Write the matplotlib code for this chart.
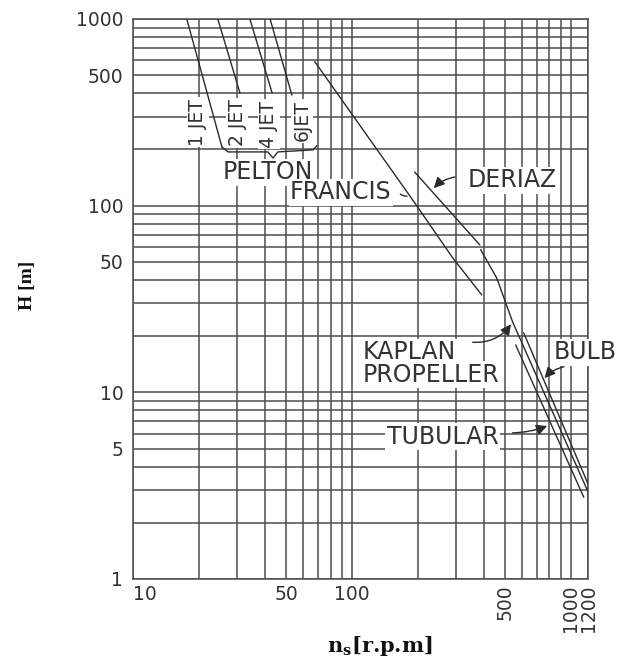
import matplotlib
matplotlib.use("Agg")
import matplotlib.pyplot as plt
from matplotlib.ticker import NullFormatter

# specific speed n_s [r.p.m] vs head H [m]
pelton_1jet_ns = [17.6, 25.5]
pelton_1jet_h = [1000, 206]
pelton_2jet_ns = [24.4, 30.8]
pelton_2jet_h = [1000, 402]
pelton_4jet_ns = [34.2, 43.2]
pelton_4jet_h = [1000, 402]
pelton_6jet_ns = [42.3, 53.2]
pelton_6jet_h = [1000, 392]

francis_ns = [67.8, 190, 289, 392]
francis_h = [589, 107, 52.5, 33.3]
deriaz_ns = [194, 384]
deriaz_h = [151, 61.7]
kaplan_ns = [388, 459, 543, 1200]
kaplan_h = [58, 41, 23.8, 2.93]
bulb_ns = [610, 1200]
bulb_h = [20.8, 3.23]
tubular_ns = [561, 1146]
tubular_h = [17.9, 2.75]

# brace grouping the pelton jets
brace_ns = [25.5, 27.2, 41.3, 43.6, 45.9, 66.4, 69.2]
brace_h = [206, 194, 194, 180, 194, 199, 209]

x_ticks = [10, 50, 100, 500, 1000, 1200]
x_ticklabels = ["10", "50", "100", "500", "1000", "1200"]
y_ticks = [1, 5, 10, 50, 100, 500, 1000]
y_ticklabels = ["1", "5", "10", "50", "100", "500", "1000"]

grid_col = "#4d4d4d"
line_col = "#2b2b2b"
text_col = "#333333"

fig = plt.figure(figsize=(6.21, 6.59), dpi=100)
ax = fig.add_axes([0.2142, 0.1214, 0.7327, 0.8498])
ax.set_xscale("log")
ax.set_yscale("log")
ax.set_xlim(10, 1200)
ax.set_ylim(1, 1000)

ax.grid(True, which="both", color=grid_col, lw=1.1)
for s in ax.spines.values():
    s.set_color(grid_col)
    s.set_linewidth(1.1)

ax.set_xticks(x_ticks)
ax.set_xticklabels(x_ticklabels)
ax.set_yticks(y_ticks)
ax.set_yticklabels(y_ticklabels)
ax.xaxis.set_minor_formatter(NullFormatter())
ax.yaxis.set_minor_formatter(NullFormatter())
ax.tick_params(which="both", length=0, labelsize=13.5, labelcolor=text_col)
ax.tick_params(axis="y", pad=7)
ax.tick_params(axis="x", pad=4)
xl = ax.get_xticklabels()
xl[0].set_ha("left")
for lbl in xl[3:]:
    lbl.set_rotation(90)

# curves
lkw = dict(color=line_col, lw=1.0, zorder=4)
ax.plot(pelton_1jet_ns, pelton_1jet_h, **lkw)
ax.plot(pelton_2jet_ns, pelton_2jet_h, **lkw)
ax.plot(pelton_4jet_ns, pelton_4jet_h, **lkw)
ax.plot(pelton_6jet_ns, pelton_6jet_h, **lkw)
ax.plot(francis_ns, francis_h, **lkw)
ax.plot(deriaz_ns, deriaz_h, **lkw)
ax.plot(kaplan_ns, kaplan_h, **lkw)
ax.plot(bulb_ns, bulb_h, **lkw)
ax.plot(tubular_ns, tubular_h, **lkw)
ax.plot(brace_ns, brace_h, **lkw)

# labels
box = dict(facecolor="white", edgecolor="none", pad=1)
tkw = dict(fontsize=17, color=text_col, bbox=box, zorder=3)
jkw = dict(fontsize=13.5, color=text_col, bbox=box, zorder=3,
           rotation=90, ha="center", va="center")
ax.text(19.8, 280, "1 JET", **jkw)
ax.text(29.9, 277, "2 JET", **jkw)
ax.text(41.8, 273, "4 JET", **jkw)
ax.text(59.2, 284, "6JET", **jkw)

ax.text(41.3, 151, "PELTON", ha="center", va="center", **tkw)
ax.text(89.1, 118, "FRANCIS", ha="center", va="center", **tkw)
ax.text(543, 137, "DERIAZ", ha="center", va="center", **tkw)
ax.text(112, 16.4, "KAPLAN", ha="left", va="center", **tkw)
ax.text(112, 12.4, "PROPELLER", ha="left", va="center", **tkw)
ax.text(1169, 16.4, "BULB", ha="center", va="center", **tkw)
ax.text(260, 5.77, "TUBULAR", ha="center", va="center", **tkw)

akw = dict(arrowstyle="-|>", color=line_col, lw=1.0, mutation_scale=16)
ax.annotate("", xy=(184, 113), xytext=(163, 118),
            arrowprops=dict(arrowstyle="-", color=line_col, lw=1.0,
                            connectionstyle="arc3,rad=0.3"), zorder=5)
ax.annotate("", xy=(232, 121), xytext=(305, 143),
            arrowprops=dict(connectionstyle="arc3,rad=0.2", **akw), zorder=5)
ax.annotate("", xy=(543, 23.8), xytext=(346, 18.6),
            arrowprops=dict(connectionstyle="arc3,rad=0.3", **akw), zorder=5)
ax.annotate("", xy=(745, 11.6), xytext=(960, 13.8),
            arrowprops=dict(connectionstyle="arc3,rad=0.2", **akw), zorder=5)
ax.annotate("", xy=(802, 6.69), xytext=(526, 6.06),
            arrowprops=dict(connectionstyle="arc3,rad=0.1", **akw), zorder=5)

# axis titles
fig.text(0.0435, 0.5675, "H [m]", rotation=90, ha="center", va="center",
         fontsize=14, fontweight="bold", family="Liberation Serif", color="#111111")
plt.rcParams["mathtext.fontset"] = "dejavuserif"
fig.text(0.612, 0.02, r"$\mathbf{n_s}$[r.p.m]", ha="center", va="center",
         fontsize=15, fontweight="bold", family="DejaVu Serif", color="#111111")

fig.savefig("out.png", dpi=100)
